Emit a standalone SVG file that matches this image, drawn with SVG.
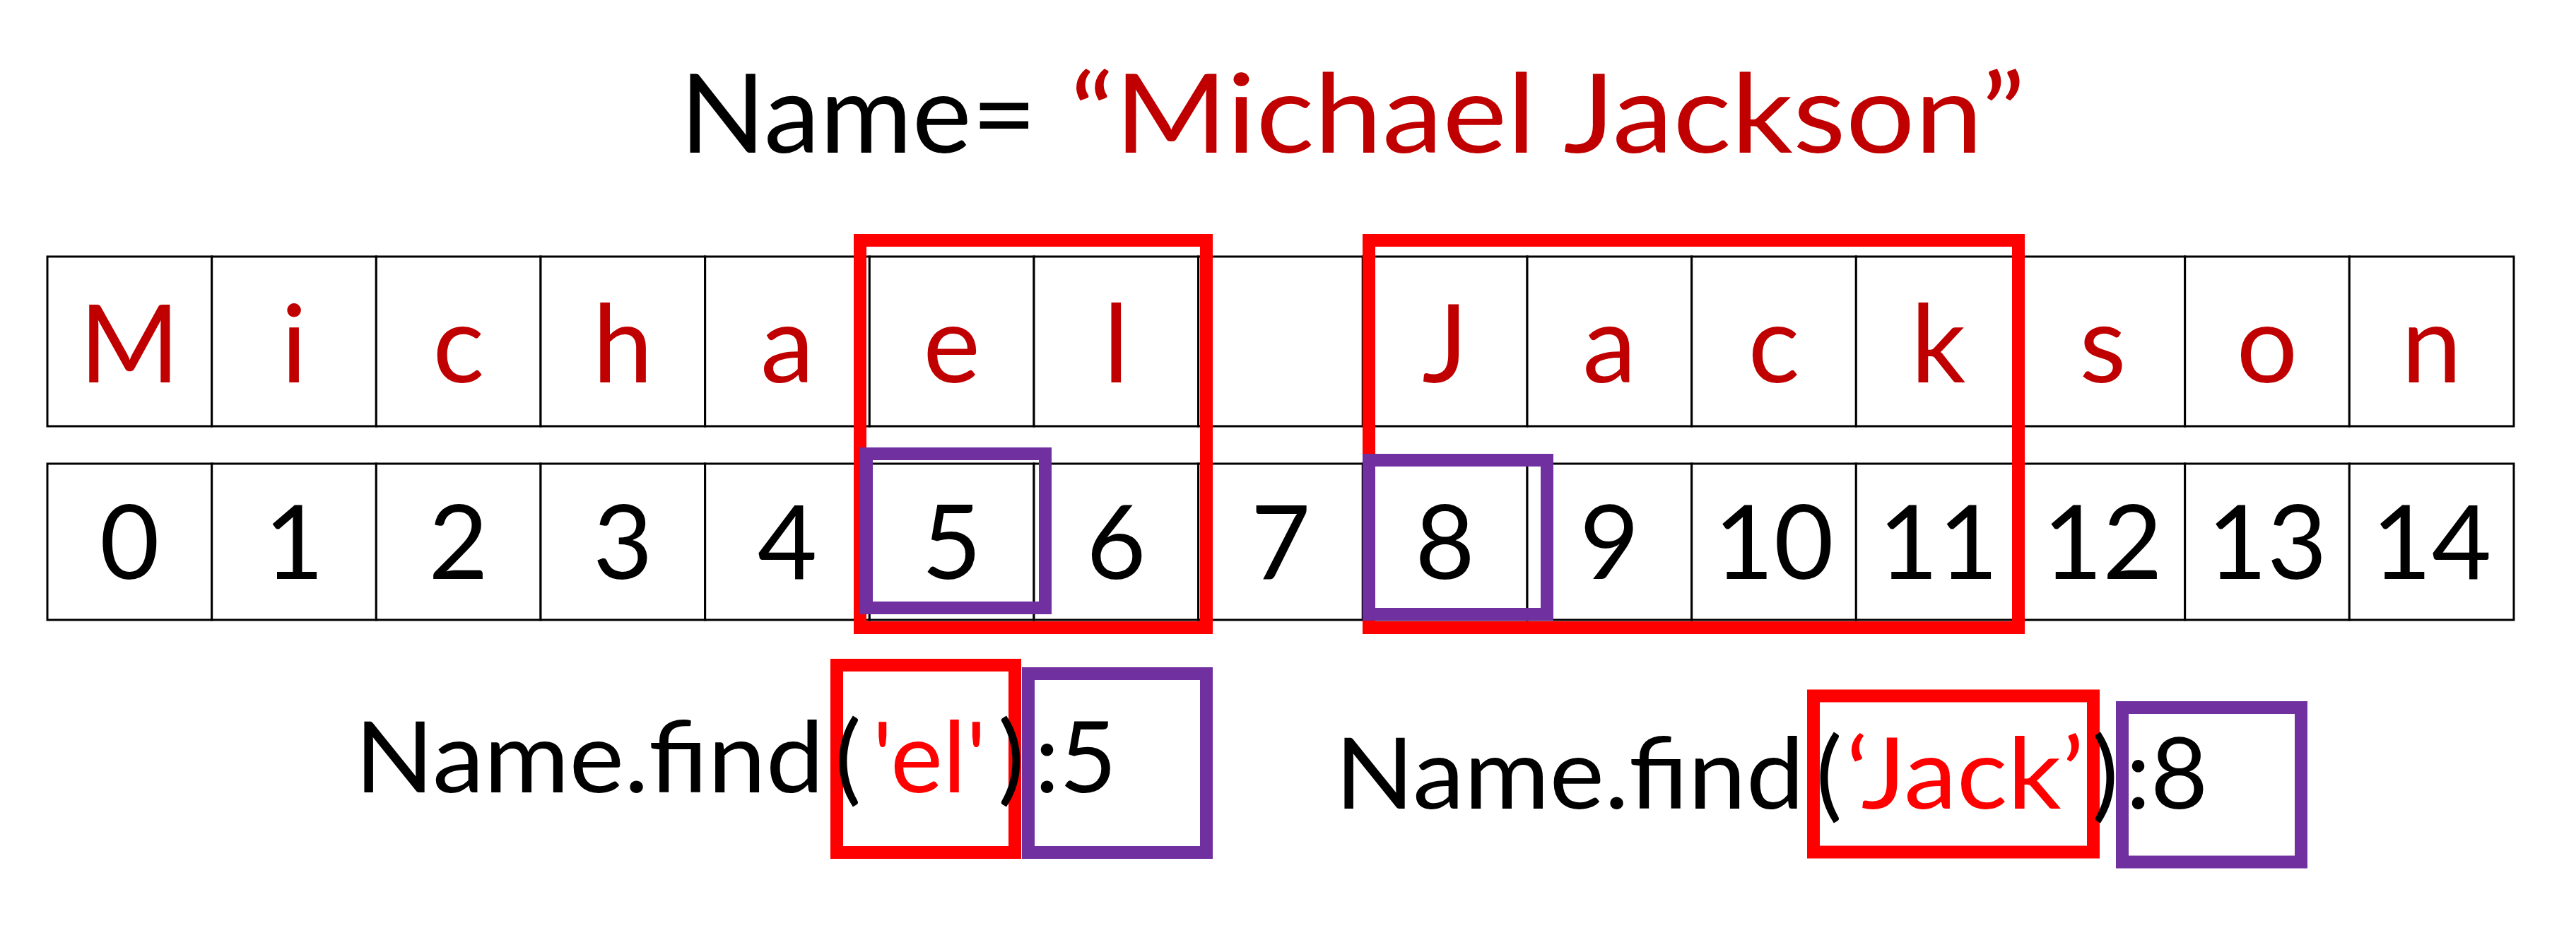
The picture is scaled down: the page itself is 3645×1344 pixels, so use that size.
<svg xmlns="http://www.w3.org/2000/svg" width="3645" height="1344" viewBox="0 0 3645 1344">
<style>
.cell{fill:#ffffff;stroke:#000000;stroke-width:3}
.ch{font-family:Lato,"Noto Sans",sans-serif;font-size:153px;fill:#C00000;text-anchor:middle}
.ix{font-family:Lato,"Noto Sans",sans-serif;font-size:146px;fill:#000000;text-anchor:middle}
.redbox{fill:none;stroke:#FF0000;stroke-width:18}
.purbox{fill:none;stroke:#7030A0;stroke-width:18}
.t{font-family:Lato,"Noto Sans",sans-serif;font-size:140px;fill:#000000}
.tr{fill:#FF0000}
.title{font-family:Lato,"Noto Sans",sans-serif;font-size:155px;fill:#000000}
</style>
<rect x="0" y="0" width="3645" height="1344" fill="#ffffff"/>
<g id="title">
<text class="title" x="962" y="216" textLength="505" lengthAdjust="spacingAndGlyphs">Name=</text>
<text class="title" x="1514" y="216" fill="#C00000" style="fill:#C00000" textLength="1352" lengthAdjust="spacingAndGlyphs">“Michael Jackson”</text>
</g>
<g id="letter-row">
<rect class="cell" x="67" y="363" width="232.67" height="240"/>
<rect class="cell" x="299.67" y="363" width="232.67" height="240"/>
<rect class="cell" x="532.33" y="363" width="232.67" height="240"/>
<rect class="cell" x="765" y="363" width="232.67" height="240"/>
<rect class="cell" x="997.67" y="363" width="232.67" height="240"/>
<rect class="cell" x="1230.33" y="363" width="232.67" height="240"/>
<rect class="cell" x="1463" y="363" width="232.67" height="240"/>
<rect class="cell" x="1695.67" y="363" width="232.67" height="240"/>
<rect class="cell" x="1928.33" y="363" width="232.67" height="240"/>
<rect class="cell" x="2161" y="363" width="232.67" height="240"/>
<rect class="cell" x="2393.67" y="363" width="232.67" height="240"/>
<rect class="cell" x="2626.33" y="363" width="232.67" height="240"/>
<rect class="cell" x="2859" y="363" width="232.67" height="240"/>
<rect class="cell" x="3091.67" y="363" width="232.67" height="240"/>
<rect class="cell" x="3324.33" y="363" width="232.67" height="240"/>
<text class="ch" x="183.3" y="541">M</text>
<text class="ch" x="416" y="541">i</text>
<text class="ch" x="648.7" y="541">c</text>
<text class="ch" x="881.3" y="541">h</text>
<text class="ch" x="1114" y="541">a</text>
<text class="ch" x="1346.7" y="541">e</text>
<text class="ch" x="1579.3" y="541">l</text>
<text class="ch" x="2044.7" y="541">J</text>
<text class="ch" x="2277.3" y="541">a</text>
<text class="ch" x="2510" y="541">c</text>
<text class="ch" x="2742.7" y="541">k</text>
<text class="ch" x="2975.3" y="541">s</text>
<text class="ch" x="3208" y="541">o</text>
<text class="ch" x="3440.7" y="541">n</text>
</g>
<g id="index-row">
<rect class="cell" x="67" y="656" width="232.67" height="221"/>
<rect class="cell" x="299.67" y="656" width="232.67" height="221"/>
<rect class="cell" x="532.33" y="656" width="232.67" height="221"/>
<rect class="cell" x="765" y="656" width="232.67" height="221"/>
<rect class="cell" x="997.67" y="656" width="232.67" height="221"/>
<rect class="cell" x="1230.33" y="656" width="232.67" height="221"/>
<rect class="cell" x="1463" y="656" width="232.67" height="221"/>
<rect class="cell" x="1695.67" y="656" width="232.67" height="221"/>
<rect class="cell" x="1928.33" y="656" width="232.67" height="221"/>
<rect class="cell" x="2161" y="656" width="232.67" height="221"/>
<rect class="cell" x="2393.67" y="656" width="232.67" height="221"/>
<rect class="cell" x="2626.33" y="656" width="232.67" height="221"/>
<rect class="cell" x="2859" y="656" width="232.67" height="221"/>
<rect class="cell" x="3091.67" y="656" width="232.67" height="221"/>
<rect class="cell" x="3324.33" y="656" width="232.67" height="221"/>
<text class="ix" x="183.3" y="819">0</text>
<text class="ix" x="416" y="819">1</text>
<text class="ix" x="648.7" y="819">2</text>
<text class="ix" x="881.3" y="819">3</text>
<text class="ix" x="1114" y="819">4</text>
<text class="ix" x="1346.7" y="819">5</text>
<text class="ix" x="1579.3" y="819">6</text>
<text class="ix" x="1812" y="819">7</text>
<text class="ix" x="2044.7" y="819">8</text>
<text class="ix" x="2277.3" y="819">9</text>
<text class="ix" x="2510" y="819">10</text>
<text class="ix" x="2742.7" y="819">11</text>
<text class="ix" x="2975.3" y="819">12</text>
<text class="ix" x="3208" y="819">13</text>
<text class="ix" x="3440.7" y="819">14</text>
</g>
<g id="highlights">
<rect class="redbox" x="1217" y="340" width="490" height="548"/>
<rect class="redbox" x="1937" y="340" width="919" height="548"/>
<rect class="purbox" x="1226" y="642" width="253" height="218"/>
<rect class="purbox" x="1937" y="651" width="252" height="218"/>
</g>
<g id="find-el">
<rect class="redbox" x="1184" y="941" width="252" height="265"/>
<rect class="purbox" x="1455" y="953" width="252" height="253"/>
<text class="t" x="502" y="1121" textLength="664" lengthAdjust="spacingAndGlyphs">Name.find</text>
<text class="t" x="1200" y="1121" text-anchor="middle">(</text>
<text class="t tr" x="1315" y="1121" text-anchor="middle">'el'</text>
<text class="t" x="1431" y="1121" text-anchor="middle">)</text>
<text class="t" x="1522" y="1121" text-anchor="middle">:5</text>
</g>
<g id="find-jack">
<rect class="redbox" x="2566" y="984.5" width="396" height="221"/>
<rect class="purbox" x="3003" y="1001" width="253" height="218.5"/>
<text class="t" x="1889" y="1143.5" textLength="664" lengthAdjust="spacingAndGlyphs">Name.find</text>
<text class="t" x="2588" y="1143.5" text-anchor="middle">(</text>
<text class="t tr" x="2612" y="1143.5" textLength="337" lengthAdjust="spacingAndGlyphs">‘Jack’</text>
<text class="t" x="2979" y="1143.5" text-anchor="middle">)</text>
<text class="t" x="3066" y="1143.5" text-anchor="middle">:8</text>
</g>
</svg>
